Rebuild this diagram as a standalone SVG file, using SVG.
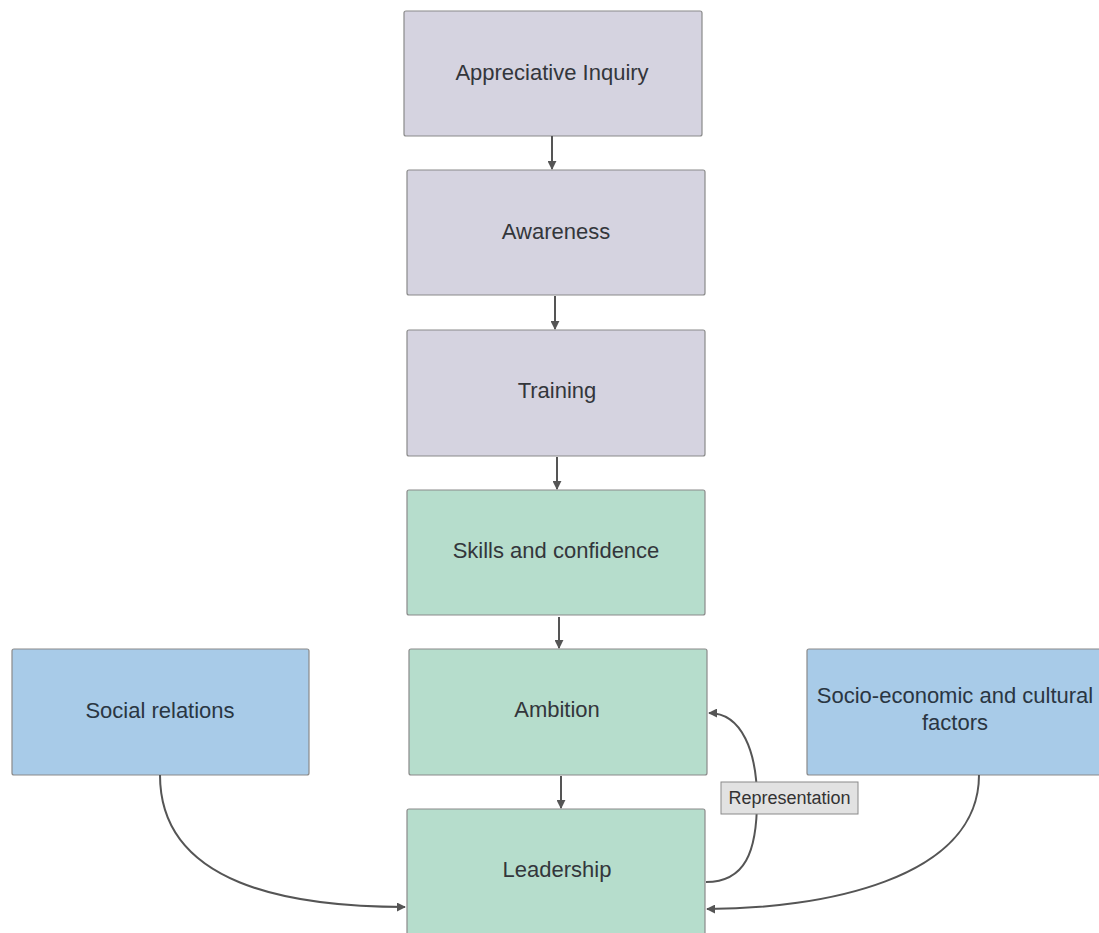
<svg xmlns="http://www.w3.org/2000/svg" width="1099" height="933" viewBox="0 0 1099 933">
  <style>
    .box { stroke: #8a8a8a; stroke-width: 1.2; }
    .purple { fill: #d5d3e0; }
    .green { fill: #b6ddcc; }
    .blue { fill: #a8cbe8; }
    .lbl { font-family: "Liberation Sans", Arial, sans-serif; font-size: 22px; fill: #33363b; text-anchor: middle; }
    .blbl { fill: #2a3642; }
    .edge { fill: none; stroke: #555555; stroke-width: 2; }
    .tag { fill: #e2e2e2; stroke: #8a8a8a; stroke-width: 1; }
    .tagtext { font-family: "Liberation Sans", Arial, sans-serif; font-size: 18px; fill: #333333; text-anchor: middle; }
  </style>
  <defs>
    <marker id="arrow" viewBox="0 0 10 10" refX="9" refY="5" markerWidth="4.5" markerHeight="4.5" orient="auto" markerUnits="strokeWidth">
      <path d="M0,0 L10,5 L0,10 Z" fill="#555555"/>
    </marker>
  </defs>

  <rect width="1099" height="933" fill="#ffffff"/>

  <g id="appreciative-inquiry">
    <rect class="box purple" x="404" y="11" width="298" height="125" rx="2"/>
    <text class="lbl" x="552" y="80">Appreciative Inquiry</text>
  </g>
  <g id="awareness">
    <rect class="box purple" x="407" y="170" width="298" height="125" rx="2"/>
    <text class="lbl" x="556" y="239">Awareness</text>
  </g>
  <g id="training">
    <rect class="box purple" x="407" y="330" width="298" height="126" rx="2"/>
    <text class="lbl" x="557" y="398">Training</text>
  </g>
  <g id="skills">
    <rect class="box green" x="407" y="490" width="298" height="125" rx="2"/>
    <text class="lbl" x="556" y="558">Skills and confidence</text>
  </g>
  <g id="ambition">
    <rect class="box green" x="409" y="649" width="298" height="126" rx="2"/>
    <text class="lbl" x="557" y="717">Ambition</text>
  </g>
  <g id="leadership">
    <rect class="box green" x="407" y="809" width="298" height="140" rx="2"/>
    <text class="lbl" x="557" y="877">Leadership</text>
  </g>
  <g id="social-relations">
    <rect class="box blue" x="12" y="649" width="297" height="126" rx="2"/>
    <text class="lbl blbl" x="160" y="718">Social relations</text>
  </g>
  <g id="socio-economic">
    <rect class="box blue" x="807" y="649" width="300" height="126" rx="2"/>
    <text class="lbl blbl" x="955" y="703">Socio-economic and cultural</text>
    <text class="lbl blbl" x="955" y="730">factors</text>
  </g>

  <g id="connectors">
    <line class="edge" x1="552" y1="136" x2="552" y2="169" marker-end="url(#arrow)"/>
    <line class="edge" x1="555" y1="296" x2="555" y2="329" marker-end="url(#arrow)"/>
    <line class="edge" x1="557" y1="457" x2="557" y2="489" marker-end="url(#arrow)"/>
    <line class="edge" x1="559" y1="617" x2="559" y2="648" marker-end="url(#arrow)"/>
    <line class="edge" x1="561" y1="776" x2="561" y2="808" marker-end="url(#arrow)"/>
    <path class="edge" d="M706,882 C745,882 757,852 757,800 C757,752 742,713 709,713" marker-end="url(#arrow)"/>
    <path class="edge" d="M160,775 C160,885 290,907 405,907" marker-end="url(#arrow)"/>
    <path class="edge" d="M979,775 C979,880 820,909 707,909" marker-end="url(#arrow)"/>
    <g id="representation-label">
      <rect class="tag" x="721" y="782" width="137" height="32"/>
      <text class="tagtext" x="789.5" y="804">Representation</text>
    </g>
  </g>
</svg>
